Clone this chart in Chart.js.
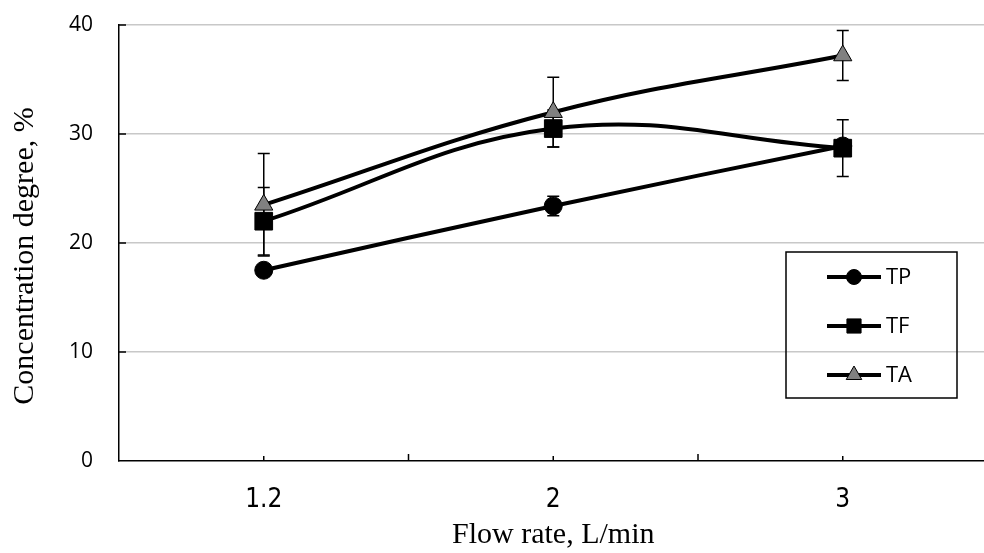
<!DOCTYPE html>
<html>
<head>
<meta charset="utf-8">
<script src="https://cdn.jsdelivr.net/npm/chart.js@4.4.1/dist/chart.umd.min.js"></script>
<style>
  html, body { margin: 0; padding: 0; background: #fff; overflow: hidden; }
  #wrap { width: 1001px; height: 553px; }
</style>
</head>
<body>
<div id="wrap"><canvas id="chart"></canvas></div>
<script>
const flowRates = ["1.2", "2", "3"];
const tpValues = [17.5, 23.4, 28.9];
const tfValues = [22.0, 30.5, 28.7];
const taValues = [23.5, 32.0, 37.2];
const tpErrors = [0.5, 0.9, 0.5];
const tfErrors = [3.1, 1.7, 2.6];
const taErrors = [4.7, 3.2, 2.3];
const yTickValues = [0, 10, 20, 30, 40];
const yTitle = "Concentration degree, %";

// vertical error bars with caps, drawn under the lines
const errorBars = {
  id: "errorBars",
  beforeDatasetsDraw(chart) {
    const { ctx } = chart;
    const yScale = chart.scales.y;
    ctx.save();
    ctx.strokeStyle = "#000";
    ctx.lineWidth = 1.5;
    chart.data.datasets.forEach((ds, i) => {
      const meta = chart.getDatasetMeta(i);
      meta.data.forEach((pt, j) => {
        const err = ds.errors[j];
        const top = yScale.getPixelForValue(ds.data[j] + err);
        const bot = yScale.getPixelForValue(ds.data[j] - err);
        ctx.beginPath();
        ctx.moveTo(pt.x, top);
        ctx.lineTo(pt.x, bot);
        ctx.moveTo(pt.x - 6, top);
        ctx.lineTo(pt.x + 6, top);
        ctx.moveTo(pt.x - 6, bot);
        ctx.lineTo(pt.x + 6, bot);
        ctx.stroke();
      });
    });
    ctx.restore();
  },
};

// small inward tick marks on both axes
const axisTicks = {
  id: "axisTicks",
  beforeDatasetsDraw(chart) {
    const { ctx, chartArea } = chart;
    const xScale = chart.scales.x;
    const yScale = chart.scales.y;
    ctx.save();
    ctx.strokeStyle = "#000";
    ctx.lineWidth = 1.5;
    ctx.beginPath();
    yTickValues.forEach((v) => {
      if (v === 0) return;
      const py = yScale.getPixelForValue(v);
      ctx.moveTo(chartArea.left, py);
      ctx.lineTo(chartArea.left + 7, py);
    });
    const step = xScale.getPixelForValue(1) - xScale.getPixelForValue(0);
    flowRates.forEach((f, i) => {
      const cx = xScale.getPixelForValue(i);
      ctx.moveTo(cx, chartArea.bottom);
      ctx.lineTo(cx, chartArea.bottom - 5);
      const bx = cx + step / 2;
      ctx.moveTo(bx, chartArea.bottom);
      ctx.lineTo(bx, chartArea.bottom - 7);
    });
    ctx.stroke();
    ctx.restore();
  },
};

// y title sits a bit below the axis middle in the original, so draw it by hand
const sideTitle = {
  id: "sideTitle",
  afterDraw(chart) {
    const { ctx } = chart;
    ctx.save();
    ctx.translate(33, 256);
    ctx.rotate(-Math.PI / 2);
    ctx.fillStyle = "#000";
    ctx.font = "30px 'Liberation Serif'";
    ctx.textAlign = "center";
    ctx.textBaseline = "alphabetic";
    ctx.fillText(yTitle, 0, 0);
    ctx.restore();
  },
};

const boxLegend = {
  id: "boxLegend",
  afterDraw(chart) {
    const { ctx } = chart;
    const box = { x: 786, y: 252, w: 171, h: 146 };
    const rows = [277, 326, 375];
    ctx.save();
    ctx.strokeStyle = "#000";
    ctx.lineWidth = 1.5;
    ctx.strokeRect(box.x, box.y, box.w, box.h);
    chart.data.datasets.forEach((ds, i) => {
      const ry = rows[i];
      ctx.strokeStyle = "#000";
      ctx.lineWidth = 4;
      ctx.beginPath();
      ctx.moveTo(827, ry);
      ctx.lineTo(881, ry);
      ctx.stroke();
      ctx.fillStyle = ds.pointBackgroundColor;
      ctx.strokeStyle = "#000";
      ctx.lineWidth = 1;
      Chart.helpers.drawPoint(ctx, {
        pointStyle: ds.pointStyle,
        radius: ds.legendRadius,
        borderWidth: 1,
        rotation: 0,
      }, 854, ry);
      ctx.fillStyle = "#000";
      ctx.font = "22px 'Open Sans'";
      ctx.textBaseline = "middle";
      ctx.textAlign = "left";
      ctx.fillText(ds.label, 886, ry + 1);
    });
    ctx.restore();
  },
};

function makeDataset(label, values, errors, style, radius, legendRadius, fill, order) {
  return {
    label,
    data: values,
    errors,
    borderColor: "#000",
    borderWidth: 4,
    tension: 0.4,
    pointStyle: style,
    pointRadius: radius,
    pointHoverRadius: radius,
    legendRadius,
    pointBackgroundColor: fill,
    pointBorderColor: "#000",
    pointBorderWidth: 1,
    order,
  };
}

const ctx = document.getElementById("chart").getContext("2d");
new Chart(ctx, {
  type: "line",
  data: {
    labels: flowRates,
    datasets: [
      makeDataset("TP", tpValues, tpErrors, "circle", 9, 7.5, "#000", 2),
      makeDataset("TF", tfValues, tfErrors, "rect", 12.5, 10, "#000", 1),
      makeDataset("TA", taValues, taErrors, "triangle", 10.5, 9, "#808080", 0),
    ],
  },
  options: {
    responsive: true,
    maintainAspectRatio: false,
    animation: false,
    layout: { padding: { top: 25, right: 0, bottom: 0, left: 0 } },
    plugins: {
      legend: { display: false },
      tooltip: { enabled: false },
    },
    scales: {
      x: {
        offset: true,
        grid: { display: false },
        border: { color: "#000", width: 1.5 },
        ticks: {
          color: "#000",
          padding: 16,
          font: { family: "'Liberation Sans Narrow', 'DejaVu Sans Condensed', sans-serif", size: 26 },
        },
        title: {
          display: true,
          text: "Flow rate, L/min",
          color: "#000",
          font: { family: "'Liberation Serif', serif", size: 30 },
          padding: { top: 0, bottom: 0 },
        },
        afterFit(scale) {
          scale.height = 92;
          scale.paddingLeft = 0;
          scale.paddingRight = 0;
        },
      },
      y: {
        min: 0,
        max: 40,
        grid: {
          color: (c) => (c.tick && c.tick.value === 0 ? "rgba(0,0,0,0)" : "#c8c8c8"),
          lineWidth: 1.5,
          drawTicks: false,
        },
        border: { color: "#000", width: 1.5 },
        ticks: {
          stepSize: 10,
          color: "#000",
          padding: 26,
          font: { family: "'Open Sans', sans-serif", size: 21 },
        },
        afterFit(scale) {
          scale.width = 119;
          scale.paddingTop = 0;
          scale.paddingBottom = 0;
        },
      },
    },
  },
  plugins: [errorBars, axisTicks, sideTitle, boxLegend],
});
</script>
</body>
</html>
